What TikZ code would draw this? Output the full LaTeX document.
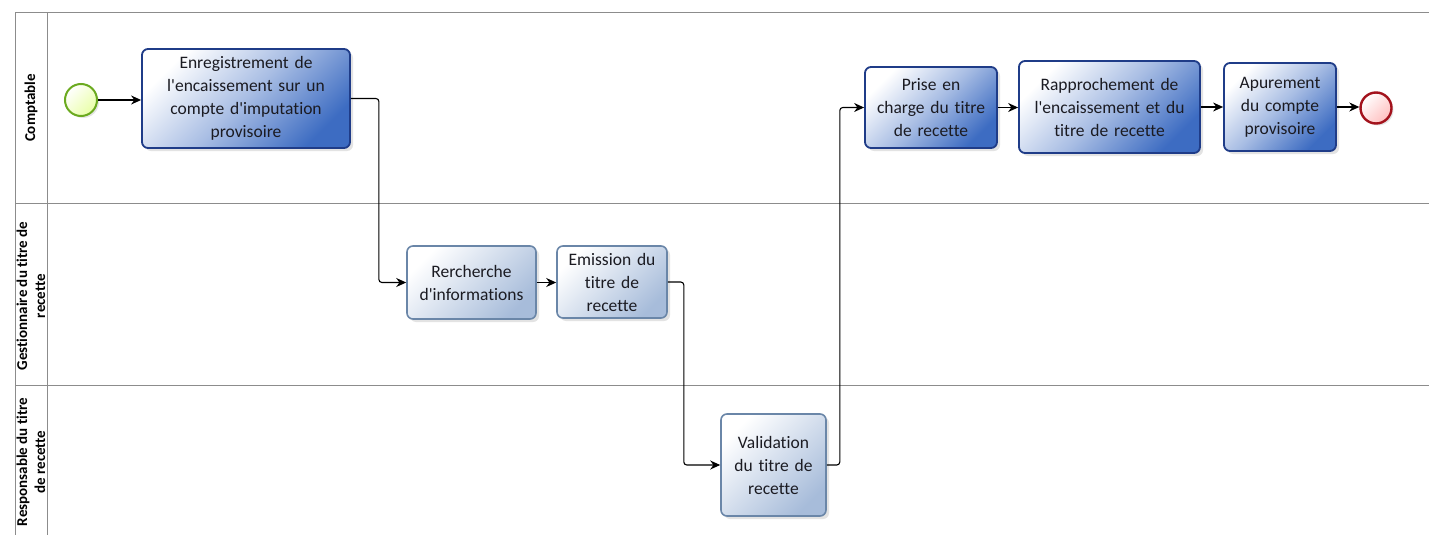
\documentclass[tikz,border=0pt]{standalone}
\usepackage{fontspec}
\setmainfont{Carlito}[Ligatures={NoCommon}]
\usetikzlibrary{arrows.meta,shadows}
\definecolor{laneline}{HTML}{8C8C8C}
\definecolor{darkedge}{HTML}{1F3C88}
\definecolor{darkfill}{HTML}{3D6CC2}
\definecolor{lightedge}{HTML}{6A86A8}
\definecolor{lightfill}{HTML}{A7BCDA}
\definecolor{txt}{HTML}{1B1B22}
\definecolor{startedge}{HTML}{6BAA1F}
\definecolor{endedge}{HTML}{A3121C}
\newcommand{\apos}{\textquotesingle}
\tikzset{
  lane/.style={draw=laneline, line width=1pt},
  lanelabel/.style={rotate=90, align=center, text=black,
    font=\fontsize{15}{18}\selectfont\bfseries},
  taskbase/.style={rounded corners=6pt, align=center, text=txt, inner sep=2pt,
    font=\fontsize{17.5}{23}\selectfont,
    drop shadow={opacity=0.22, shadow xshift=3pt, shadow yshift=-3pt}},
  darktask/.style={taskbase, draw=darkedge, line width=1.8pt,
    top color=white, bottom color=darkfill, middle color=darkfill!45!white, shading angle=45},
  lighttask/.style={taskbase, draw=lightedge, line width=1.6pt,
    top color=white, bottom color=lightfill, shading angle=45},
  startev/.style={circle, minimum size=32pt, inner sep=0pt, draw=startedge, line width=2pt,
    top color=white, bottom color=green!25!yellow!35, shading angle=45,
    drop shadow={opacity=0.2, shadow xshift=2pt, shadow yshift=-2pt}},
  endev/.style={circle, minimum size=31pt, inner sep=0pt, draw=endedge, line width=2.4pt,
    top color=white, bottom color=red!25, shading angle=45,
    drop shadow={opacity=0.2, shadow xshift=2pt, shadow yshift=-2pt}},
  flow/.style={draw=black, line width=1.1pt, rounded corners=3pt,
    -{Stealth[length=10pt,width=9pt]}}
}
\begin{document}
\begin{tikzpicture}[x=1pt,y=-1pt]
\useasboundingbox (0,0) rectangle (1429,535);
\fill[white] (0,0) rectangle (1429,535);

% swimlanes
\draw[lane] (15,13) -- (1429,13);
\draw[lane] (15,203) -- (1429,203);
\draw[lane] (15,385) -- (1429,385);
\draw[lane] (15,13) -- (15,535);
\draw[lane] (47,13) -- (47,535);

\node[lanelabel] (lc) at (31,108) {Comptable};
\node[lanelabel] (lg) at (31,296) {Gestionnaire du titre de\\recette};
\node[lanelabel] (lr) at (31,462) {Responsable du titre\\de recette};

% events
\node[startev] (start) at (81,100) {};
\node[endev] (stop) at (1376,108) {};

% tasks
\node[darktask, minimum width=208pt, minimum height=99pt, text width=200pt] (enr) at (246,98.5)
  {Enregistrement de\\l\apos encaissement sur un\\compte d\apos imputation\\provisoire};
\node[lighttask, minimum width=129pt, minimum height=73pt, text width=124pt] (rech) at (471.5,282.5)
  {Rercherche\\d\apos informations};
\node[lighttask, minimum width=110pt, minimum height=72pt, text width=104pt] (emis) at (612,282)
  {Emission du\\titre de\\recette};
\node[lighttask, minimum width=105pt, minimum height=102pt, text width=100pt] (valid) at (773.5,465)
  {Validation\\du titre de\\recette};
\node[darktask, minimum width=132pt, minimum height=81pt, text width=126pt] (prise) at (931,107.5)
  {Prise en\\charge du titre\\de recette};
\node[darktask, minimum width=181pt, minimum height=92pt, text width=176pt] (rappr) at (1109.5,107)
  {Rapprochement de\\l\apos encaissement et du\\titre de recette};
\node[darktask, minimum width=112pt, minimum height=88pt, text width=106pt] (apur) at (1280,107)
  {Apurement\\du compte\\provisoire};

% sequence flows
\draw[flow] (start.east) -- (start.east -| enr.west);
\draw[flow] (enr.east) -- ++(28,0) |- (rech.west);
\draw[flow] (rech.east) -- (rech.east -| emis.west);
\draw[flow] (emis.east) -- ++(16,0) |- (valid.west);
\draw[flow] (valid.east) -- ++(13,0) |- (prise.west);
\draw[flow] (prise.east) -- (prise.east -| rappr.west);
\draw[flow] (rappr.east) -- (rappr.east -| apur.west);
\draw[flow] (apur.east) -- (apur.east -| stop.west);
\end{tikzpicture}
\end{document}
